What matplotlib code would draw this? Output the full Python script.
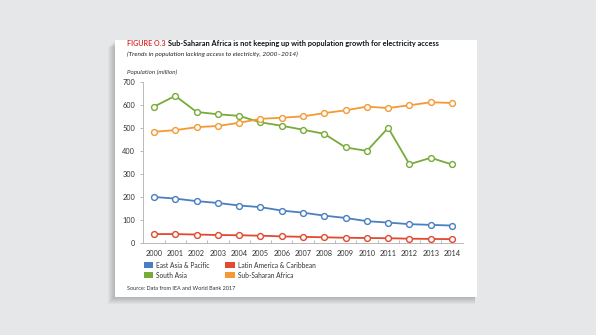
import matplotlib.pyplot as plt
from matplotlib.patches import Rectangle

W, H = 596, 335

years = list(range(2000, 2015))
east_asia = [201, 194, 183, 175, 164, 157, 142, 133, 120, 110, 96, 90, 83, 80, 77]
latin_america = [40, 40, 38, 36, 35, 33, 30, 28, 26, 24, 23, 22, 20, 19, 18]
south_asia = [593, 640, 570, 560, 553, 525, 510, 493, 475, 416, 401, 501, 343, 371, 342]
sub_saharan = [484, 491, 504, 509, 523, 540, 545, 551, 565, 577, 593, 587, 599, 612, 609]

series = [
    ("East Asia & Pacific", east_asia, "#4a7fc1"),
    ("Latin America & Caribbean", latin_america, "#e2492e"),
    ("South Asia", south_asia, "#78ab3a"),
    ("Sub-Saharan Africa", sub_saharan, "#f49a35"),
]

plt.rcParams['font.family'] = ['Lato', 'DejaVu Sans']


def fx(px):
    return px / W


def fy(py):
    return 1 - py / H


fig = plt.figure(figsize=(W / 100, H / 100), dpi=100)
fig.patch.set_facecolor("#e6e7e9")

# soft card shadow + card
for i in range(7):
    off = 7 - i
    fig.patches.append(Rectangle((fx(115 - off), fy(297 + off)),
                                 fx(477 - 115 + off - 2), (297 - 40) / H,
                                 transform=fig.transFigure, facecolor="#000000",
                                 alpha=0.03, edgecolor="none", zorder=0))
fig.patches.append(Rectangle((fx(115), fy(297)), fx(477 - 115), (297 - 40) / H,
                             transform=fig.transFigure, facecolor="white",
                             edgecolor="none", zorder=1))

ax = fig.add_axes([fx(142.7), fy(243.3), fx(462.7 - 142.7), (243.3 - 82) / H])
ax.set_facecolor("none")
ax.set_zorder(2)

for name, vals, col in series:
    ax.plot(years, vals, color=col, lw=1.3, marker="o", markersize=4.2,
            markerfacecolor="white", markeredgecolor=col, markeredgewidth=1.0,
            solid_capstyle="round")

ax.set_xlim(1999.47, 2014.5)
ax.set_ylim(0, 700)
ax.set_yticks(range(0, 701, 100))
ax.set_xticks(years)
ax.set_xticks([y + 0.5 for y in years[:-1]], minor=True)
ax.tick_params(axis="x", which="major", length=0, pad=5, labelsize=5.3, labelcolor="#333333")
ax.tick_params(axis="x", which="minor", length=2.5, direction="in", color="#b0b0b0", width=0.6)
ax.tick_params(axis="y", length=2.5, width=0.6, color="#b0b0b0", pad=3, labelsize=5.3, labelcolor="#333333")
for s in ["top", "right"]:
    ax.spines[s].set_visible(False)
for s in ["left", "bottom"]:
    ax.spines[s].set_color("#b0b0b0")
    ax.spines[s].set_linewidth(0.6)

# titles
t1 = fig.text(fx(127), fy(46), "FIGURE O.3", color="#d8312b", fontsize=5.1,
              fontweight="bold", va="baseline", zorder=3)
fig.canvas.draw()
bb = t1.get_window_extent()
fig.text(bb.x1 / W + fx(2.5), fy(46),
         "Sub-Saharan Africa is not keeping up with population growth for electricity access",
         color="#111111", fontsize=5.3, fontweight="bold", va="baseline", zorder=3)
fig.text(fx(127), fy(56), "(Trends in population lacking access to electricity, 2000\u20132014)",
         color="#222222", fontsize=4.65, style="italic", va="baseline", zorder=3)
fig.text(fx(127), fy(74), "Population (million)", color="#333333", fontsize=4.5,
         style="italic", va="baseline", zorder=3)

# legend
leg_pos = [(143.5, 265), (225, 265), (143.5, 275), (225, 275)]
for (name, vals, col), (lx, ly) in zip(series, leg_pos):
    fig.patches.append(Rectangle((fx(lx), fy(ly + 2.7)), fx(9.5), 5.4 / H,
                                 transform=fig.transFigure, facecolor=col,
                                 edgecolor="none", zorder=3))
    fig.text(fx(lx + 13), fy(ly), name, color="#333333", fontsize=4.8,
             va="center", zorder=3)

fig.text(fx(127), fy(289), "Source: Data from IEA and World Bank 2017", color="#333333",
         fontsize=3.95, va="center", zorder=3)

fig.savefig("out.png", dpi=100, facecolor=fig.get_facecolor())
